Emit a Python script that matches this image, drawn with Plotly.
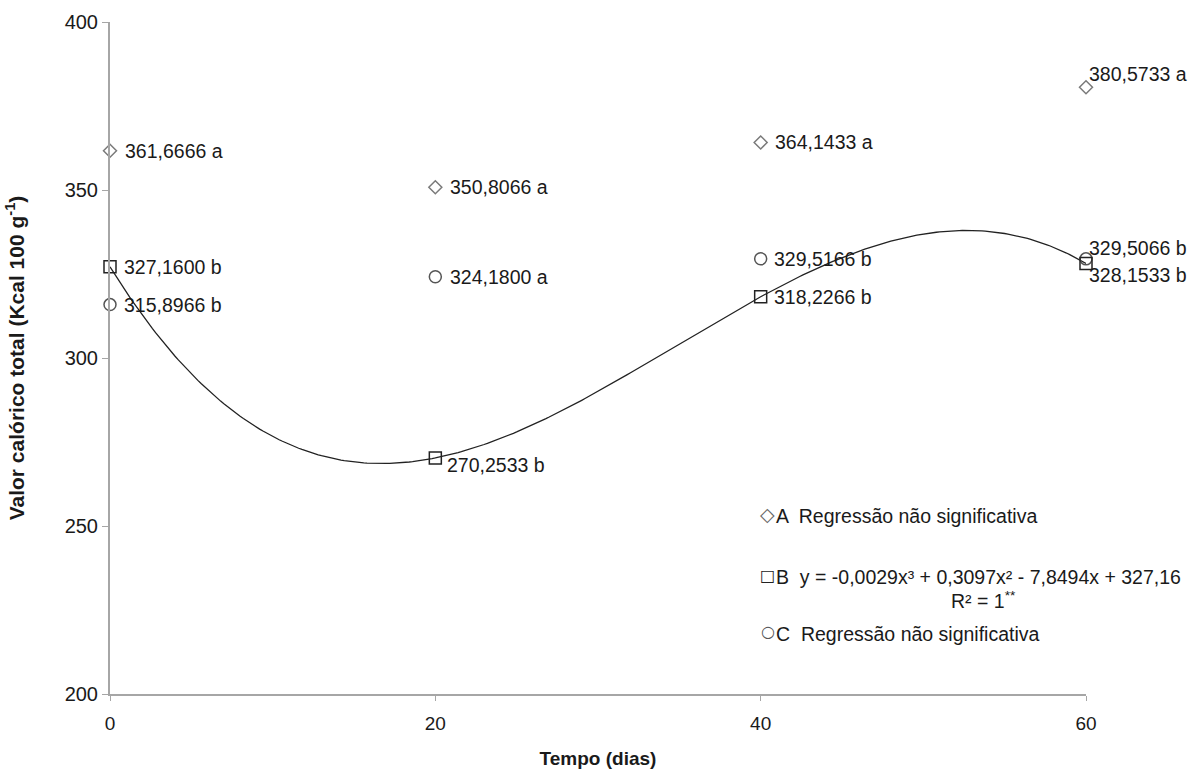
import numpy as np
import plotly.graph_objects as go

dias = [0, 20, 40, 60]
serie_a = [361.6666, 350.8066, 364.1433, 380.5733]
serie_b = [327.1600, 270.2533, 318.2266, 328.1533]
serie_c = [315.8966, 324.1800, 329.5166, 329.5066]
letras_a = ["a", "a", "a", "a"]
letras_b = ["b", "b", "b", "b"]
letras_c = ["b", "a", "b", "b"]
x_ticks = [0, 20, 40, 60]
y_ticks = [200, 250, 300, 350, 400]

def fmt(v, l):
    return f"{v:.4f}".replace(".", ",") + " " + l

# exact cubic through the B points (R² = 1)
coef = np.polyfit(dias, serie_b, 3)
xs = np.linspace(0, 60, 301)
ys = np.polyval(coef, xs)

AXIS = "#a6a6a6"
TXT = "#1a1a1a"
FONT = "Liberation Sans, Arial, sans-serif"
LBL = 19.5

fig = go.Figure()
fig.add_trace(go.Scatter(x=xs, y=ys, mode="lines", line=dict(color="#222", width=1.3),
                         hoverinfo="skip", showlegend=False, cliponaxis=False))
fig.add_trace(go.Scatter(x=dias, y=serie_a, mode="markers", showlegend=False, cliponaxis=False,
                         marker=dict(symbol="diamond-open", size=10, color="#7a7a7a", line=dict(width=1.5))))
fig.add_trace(go.Scatter(x=dias, y=serie_c, mode="markers", showlegend=False, cliponaxis=False,
                         marker=dict(symbol="circle-open", size=12, color="#555555", line=dict(width=1.5))))
fig.add_trace(go.Scatter(x=dias, y=serie_b, mode="markers", showlegend=False, cliponaxis=False,
                         marker=dict(symbol="square-open", size=12, color="#222222", line=dict(width=1.5))))

# value labels: (xshift, yshift) per point
shift_a = [(13, 0), (13, 0), (12, 0), (1, 13)]
shift_b = [(12, 0), (10, -7), (11, 0), (1, -12)]
shift_c = [(12, 0), (13, 0), (11, 0), (1, 11)]
anns = []
for vals, lets, shifts in [(serie_a, letras_a, shift_a), (serie_b, letras_b, shift_b), (serie_c, letras_c, shift_c)]:
    for xv, yv, l, (dx, dy) in zip(dias, vals, lets, shifts):
        anns.append(dict(x=xv, y=yv, xref="x", yref="y", text=fmt(yv, l), showarrow=False,
                         xanchor="left", yanchor="middle", xshift=dx, yshift=dy,
                         font=dict(size=LBL, color=TXT, family=FONT)))

# legend block (symbol + text)
leg = [
    (252.9, "◇", 19, "#666666", "A  Regressão não significativa"),
    (234.7, "□", 16, "#222222", "B  y = -0,0029x³ + 0,3097x² - 7,8494x + 327,16"),
    (218.0, "○", 16, "#555555", "C  Regressão não significativa"),
]
for yv, s, fs, c, t in leg:
    anns.append(dict(x=40.45, y=yv, xref="x", yref="y", text=s, showarrow=False,
                     xanchor="center", yanchor="middle", yshift=2,
                     font=dict(size=fs, color=c, family="DejaVu Sans")))
    anns.append(dict(x=40.85, y=yv, xref="x", yref="y", text=t, showarrow=False,
                     xanchor="left", yanchor="middle", font=dict(size=LBL, color=TXT, family=FONT)))
anns.append(dict(x=53.7, y=227.9, xref="x", yref="y", text="R² = 1<sup>**</sup>", showarrow=False,
                 xanchor="center", yanchor="middle", font=dict(size=LBL, color=TXT, family=FONT)))

fig.update_layout(
    width=1195, height=769,
    margin=dict(l=110, r=109, t=22, b=75),
    paper_bgcolor="white", plot_bgcolor="white",
    font=dict(family=FONT, color=TXT),
    annotations=anns,
    xaxis=dict(range=[0, 60], tickvals=x_ticks, ticks="outside", ticklen=5, tickcolor=AXIS,
               showline=True, linecolor=AXIS, linewidth=2, showgrid=False, zeroline=False,
               tickfont=dict(size=19, color=TXT), ticklabelstandoff=6, automargin=False,
               title=dict(text="<b>Tempo (dias)</b>", font=dict(size=19, color=TXT), standoff=20)),
    yaxis=dict(range=[200, 400], tickvals=y_ticks, ticks="outside", ticklen=6, tickcolor=AXIS,
               showline=True, linecolor=AXIS, linewidth=2, showgrid=False, zeroline=False,
               tickfont=dict(size=20, color=TXT), automargin=False,
               title=dict(text="<b>Valor calórico total (Kcal 100 g<sup>-1</sup>)</b>",
                          font=dict(size=21, color=TXT), standoff=34)),
)

fig.write_html("out.html")
